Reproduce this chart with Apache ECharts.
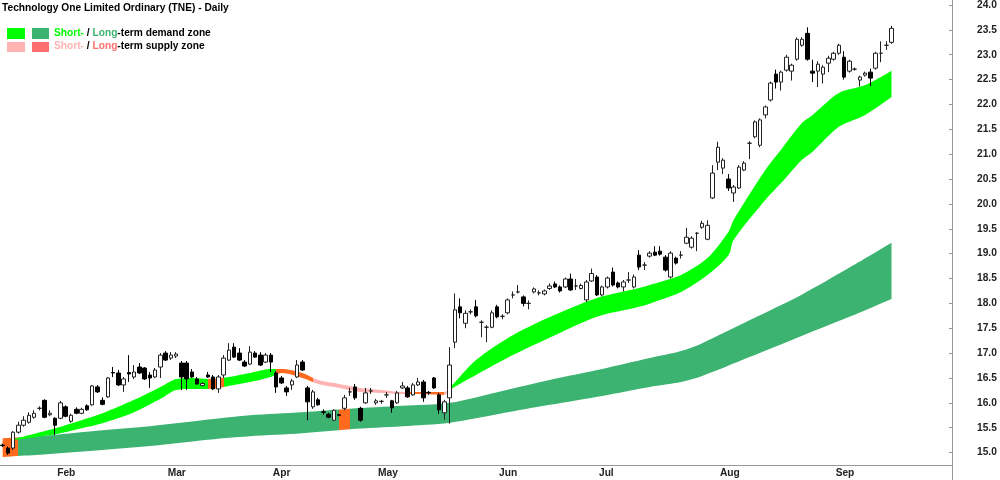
<!DOCTYPE html>
<html>
<head>
<meta charset="utf-8">
<title>TNE - Daily</title>
<script src="https://cdn.jsdelivr.net/npm/echarts@6/dist/echarts.min.js"></script>
<style>
  html, body { margin: 0; padding: 0; background: #fff; }
  #chart { width: 1000px; height: 480px; }
</style>
</head>
<body>
<div id="chart"></div>
<script>
// trading day slots on the x axis (data for 0..169, rest is empty space)
var slotCount = 181;
var monthNames = ['Feb', 'Mar', 'Apr', 'May', 'Jun', 'Jul', 'Aug', 'Sep'];
var monthStart = [10, 31, 51, 71, 94, 113, 136, 158];
var yTicks = [15.0, 15.5, 16.0, 16.5, 17.0, 17.5, 18.0, 18.5, 19.0, 19.5, 20.0, 20.5, 21.0, 21.5, 22.0, 22.5, 23.0, 23.5, 24.0];

var opens = [
  15.15,15.09,15.09,15.41,15.55,15.61,15.71,15.89,16.05,15.76,
  15.69,15.69,15.92,15.63,15.87,15.79,15.94,15.96,16.32,16.05,
  16.12,16.61,16.6,16.36,16.61,16.52,16.72,16.7,16.56,16.52,
  16.72,17.0,16.9,16.94,16.8,16.8,16.62,16.48,16.35,16.56,
  16.52,16.28,16.56,16.86,17.12,17.0,16.82,16.78,17.0,16.96,
  16.82,16.96,16.6,16.5,16.3,16.36,16.52,16.82,16.3,15.92,
  16.06,15.82,15.77,15.65,15.76,15.89,16.22,16.32,15.89,16.0,
  16.24,16.0,16.03,16.16,16.04,16.0,16.3,16.3,16.16,16.36,
  16.42,16.21,16.5,16.16,15.8,16.1,17.22,17.93,17.6,17.83,
  17.93,17.62,17.52,17.52,17.93,17.74,17.81,18.17,18.23,18.13,
  18.0,18.23,18.21,18.19,18.3,18.39,18.33,18.33,18.49,18.35,
  18.3,18.07,18.45,18.53,18.17,18.33,18.63,18.41,18.33,18.47,
  18.33,18.97,18.77,18.95,19.03,19.05,18.93,18.53,18.91,18.97,
  19.21,19.13,19.41,19.53,19.29,20.12,20.84,20.72,20.5,20.22,
  20.32,20.68,21.22,21.35,21.18,21.79,22.09,22.61,22.45,22.69,
  22.67,22.91,23.19,23.43,22.67,22.67,22.61,22.83,22.91,23.03,
  22.95,22.67,22.71,22.49,22.59,22.65,22.73,23.03,23.19,23.25
];
var closes = [
  15.14,14.99,15.41,15.55,15.65,15.75,15.79,15.89,15.71,15.79,
  15.55,16.0,15.73,15.75,15.79,15.87,15.86,16.34,16.22,15.97,
  16.5,16.6,16.36,16.48,16.58,16.62,16.6,16.48,16.5,16.66,
  16.96,16.86,16.96,16.98,16.52,16.48,16.52,16.38,16.39,16.52,
  16.28,16.52,16.9,17.06,16.92,16.86,16.74,17.02,16.92,16.76,
  16.96,16.82,16.32,16.4,16.22,16.44,16.76,16.66,16.02,16.22,
  15.96,15.81,15.71,15.85,15.75,16.1,16.22,16.1,15.65,16.2,
  16.24,16.04,16.03,16.16,15.9,16.2,16.34,16.12,16.36,16.42,
  16.1,16.2,16.3,15.86,16.02,16.76,17.87,17.81,17.8,17.83,
  17.75,17.62,17.52,17.81,17.73,17.74,18.07,18.17,18.23,18.0,
  18.0,18.29,18.21,18.25,18.35,18.33,18.25,18.49,18.27,18.35,
  18.36,18.43,18.6,18.17,18.33,18.51,18.37,18.33,18.43,18.47,
  18.53,18.73,18.77,19.01,18.97,18.99,18.67,19.01,18.81,18.97,
  19.33,19.31,19.41,19.61,19.57,20.62,21.14,20.88,20.32,20.34,
  20.74,20.82,21.22,21.65,21.69,21.95,22.43,22.45,22.65,22.95,
  22.79,23.31,23.31,22.91,22.63,22.81,22.75,22.93,23.03,23.19,
  22.55,22.87,22.71,22.55,22.63,22.53,23.03,23.03,23.19,23.53
];
var lows = [
  15.11,14.95,15.05,15.38,15.52,15.58,15.68,15.85,15.69,15.73,
  15.35,15.67,15.71,15.6,15.77,15.77,15.84,15.94,16.2,15.95,
  16.1,16.52,16.34,16.22,16.42,16.48,16.58,16.46,16.3,16.5,
  16.5,16.84,16.86,16.9,16.26,16.26,16.5,16.36,16.33,16.5,
  16.26,16.2,16.5,16.84,16.9,16.84,16.72,16.76,16.9,16.74,
  16.8,16.62,16.2,16.38,16.14,16.26,16.5,16.64,15.65,15.88,
  15.94,15.76,15.69,15.63,15.73,15.85,16.14,16.06,15.62,15.98,
  16.18,15.96,15.98,16.1,15.8,15.98,16.28,16.1,16.14,16.34,
  16.02,16.16,16.28,15.78,15.66,15.58,17.1,17.7,17.5,17.78,
  17.72,17.32,17.22,17.5,17.7,17.68,17.78,18.1,18.2,17.94,
  17.88,18.2,18.16,18.16,18.27,18.31,18.22,18.31,18.25,18.27,
  18.28,18.03,18.43,18.15,18.14,18.3,18.34,18.3,18.24,18.41,
  18.3,18.67,18.67,18.92,18.95,18.96,18.64,18.5,18.78,18.9,
  19.19,19.1,19.05,19.5,19.27,20.1,20.68,20.6,20.26,20.04,
  20.3,20.66,20.9,21.32,21.14,21.72,22.06,22.32,22.28,22.66,
  22.48,22.88,23.16,22.88,22.45,22.35,22.42,22.65,22.88,23.0,
  22.5,22.64,22.68,22.36,22.56,22.37,22.7,22.85,23.1,23.22
];
var highs = [
  15.18,15.12,15.43,15.62,15.73,15.81,15.85,15.93,16.07,15.85,
  15.71,16.04,15.95,15.78,15.91,15.9,15.97,16.36,16.36,16.11,
  16.52,16.72,16.66,16.52,16.96,16.76,16.8,16.72,16.62,16.7,
  17.0,17.04,17.02,17.02,16.84,16.84,16.68,16.52,16.41,16.62,
  16.56,16.56,16.96,17.2,17.2,17.1,16.86,17.14,17.04,17.02,
  17.0,17.0,16.64,16.54,16.34,16.48,16.86,16.86,16.34,16.26,
  16.1,15.87,15.8,15.87,15.78,16.16,16.3,16.38,15.92,16.3,
  16.3,16.08,16.06,16.22,16.06,16.24,16.42,16.34,16.4,16.5,
  16.46,16.24,16.52,16.2,16.06,17.12,18.2,18.1,17.86,17.88,
  18.07,17.66,17.56,17.86,17.97,17.78,18.1,18.24,18.37,18.16,
  18.06,18.32,18.26,18.28,18.4,18.44,18.36,18.52,18.6,18.49,
  18.4,18.47,18.7,18.57,18.36,18.54,18.72,18.44,18.47,18.63,
  18.58,19.07,18.83,19.05,19.15,19.15,18.97,19.05,18.94,19.05,
  19.52,19.35,19.43,19.66,19.67,20.78,21.25,20.92,20.6,20.38,
  20.78,20.86,21.26,21.68,21.72,21.98,22.46,22.7,22.68,23.0,
  22.82,23.35,23.35,23.55,22.9,22.87,22.79,22.98,23.06,23.22,
  23.07,22.9,22.74,22.58,22.66,22.72,23.06,23.27,23.27,23.58
];

// zone edges, read at a few days only
var longIdx   = [0, 9, 19, 28, 38, 47, 57, 66, 76, 85, 95, 104, 114, 123, 129, 133, 142, 152, 161, 169];
var longUpper = [15.29,15.35,15.45,15.53,15.65,15.75,15.81,15.88,15.94,16.0,16.24,16.46,16.68,16.9,17.04,17.2,17.66,18.18,18.72,19.22];
var longLower = [14.91,14.97,15.05,15.13,15.25,15.33,15.39,15.47,15.53,15.6,15.79,15.96,16.14,16.32,16.42,16.54,16.92,17.35,17.73,18.09];

var shortIdx   = [2,10,15,19,25,30,33,36,39,43,47,51,53,57,60,64,68,72,76,80,84,85,90,97,105,113,121,125,129,134,138,139,145,148,152,154,159,164,169];
var shortUpper = [15.27,15.49,15.65,15.79,16.06,16.32,16.48,16.5,16.48,16.52,16.6,16.68,16.68,16.6,16.46,16.38,16.3,16.26,16.22,16.22,16.22,16.3,16.86,17.36,17.77,18.11,18.31,18.43,18.57,18.91,19.44,19.68,20.68,21.09,21.63,21.79,22.23,22.39,22.68];
var shortLower = [15.25,15.37,15.49,15.59,15.81,16.08,16.26,16.28,16.28,16.34,16.42,16.52,16.6,16.5,16.38,16.3,16.22,16.2,16.18,16.18,16.16,16.26,16.56,16.96,17.36,17.73,17.93,18.07,18.23,18.57,18.97,19.28,20.08,20.42,20.89,21.05,21.55,21.79,22.15];

var GREEN = '#00ff00', DKGREEN = '#3cb371', ORANGE = '#ff6a1f', PINK = '#ffb4b4';
var FONT = '"Liberation Sans", Arial, sans-serif';

var categories = [];
for (var i = 0; i < slotCount; i++) categories.push(String(i));

// [dayIndex, value] pairs so the stack only uses the read days
var pairs = function (idx, vals) {
  return idx.map(function (k, j) { return [k, vals[j]]; });
};
var widths = function (up, lo) {
  return up.map(function (u, j) { return +(u - lo[j]).toFixed(3); });
};

var candles = opens.map(function (o, i) { return [o, closes[i], lows[i], highs[i]]; });

var isMonthStart = function (index) { return monthStart.indexOf(index) >= 0; };

var bandSeries = function (name, data, stack, area) {
  var s = {
    type: 'line', name: name, data: data, stack: stack,
    symbol: 'none', smooth: 0.3,
    lineStyle: { width: 0 }, silent: true, z: 1
  };
  if (area) s.areaStyle = { opacity: 1 };
  return s;
};

var myChart = echarts.init(document.getElementById('chart'));

myChart.setOption({
  animation: false,
  backgroundColor: '#fff',
  title: {
    text: 'Technology One Limited Ordinary (TNE) - Daily',
    left: 2, top: 3, padding: 0,
    textStyle: { fontSize: 10.2, fontWeight: 'bold', fontFamily: FONT, color: '#000' }
  },
  grid: { left: 0, right: 48, top: 0, bottom: 15, containLabel: false },
  xAxis: {
    type: 'category', data: categories, boundaryGap: true,
    axisLine: { lineStyle: { color: '#999' } },
    axisTick: { alignWithLabel: true, interval: isMonthStart, length: 5, lineStyle: { color: '#999' } },
    axisLabel: {
      interval: isMonthStart,
      formatter: function (v, index) { return monthNames[monthStart.indexOf(index)] || ''; },
      align: 'left', margin: 3, padding: [0, 0, 0, 2],
      color: '#222', fontWeight: 'bold', fontSize: 10.2, fontFamily: FONT
    },
    splitLine: { show: false }
  },
  yAxis: {
    type: 'value', position: 'right', min: 14.75, max: 24.1,
    splitLine: { show: false },
    axisLine: { show: true, lineStyle: { color: '#999' } },
    axisTick: { show: true, inside: true, length: 3, customValues: yTicks, lineStyle: { color: '#999' } },
    axisLabel: {
      customValues: yTicks, margin: 25,
      formatter: function (v) { return v.toFixed(1); },
      color: '#222', fontWeight: 'bold', fontSize: 10.2, fontFamily: FONT
    }
  },
  visualMap: [
    {
      type: 'piecewise', show: false, seriesIndex: 1, dimension: 0,
      pieces: [
        { lt: 2.9, color: ORANGE },
        { gte: 2.9, lt: 64, color: DKGREEN },
        { gte: 64, lt: 66, color: ORANGE },
        { gte: 66, color: DKGREEN }
      ]
    },
    {
      type: 'piecewise', show: false, seriesIndex: 3, dimension: 0,
      pieces: [
        { lt: 38.5, color: GREEN },
        { gte: 38.5, lt: 41.5, color: ORANGE },
        { gte: 41.5, lt: 51.5, color: GREEN },
        { gte: 51.5, lt: 58.5, color: ORANGE },
        { gte: 58.5, lt: 76.8, color: PINK },
        { gte: 76.8, lt: 83.5, color: ORANGE },
        { gte: 83.5, lt: 85, color: PINK },
        { gte: 85, color: GREEN }
      ]
    }
  ],
  series: [
    bandSeries('longBase', pairs(longIdx, longLower), 'long', false),
    bandSeries('longZone', pairs(longIdx, widths(longUpper, longLower)), 'long', true),
    bandSeries('shortBase', pairs(shortIdx, shortLower), 'short', false),
    bandSeries('shortZone', pairs(shortIdx, widths(shortUpper, shortLower)), 'short', true),
    {
      type: 'candlestick', name: 'TNE', data: candles, barWidth: 4, z: 3,
      itemStyle: {
        color: '#ffffff', color0: '#000000',
        borderColor: '#222', borderColor0: '#000', borderColorDoji: '#222', borderWidth: 1
      }
    }
  ],
  graphic: [
    { type: 'rect', left: 7, top: 28, shape: { width: 18, height: 11 }, style: { fill: GREEN } },
    { type: 'rect', left: 32, top: 28, shape: { width: 17, height: 11 }, style: { fill: DKGREEN } },
    { type: 'rect', left: 7, top: 42, shape: { width: 18, height: 10 }, style: { fill: '#ffb3b3' } },
    { type: 'rect', left: 32, top: 42, shape: { width: 17, height: 10 }, style: { fill: '#ff6e6e' } },
    {
      type: 'text', left: 54, top: 28,
      style: {
        text: '{g|Short-} / {d|Long}-term demand zone',
        font: 'bold 10.2px ' + FONT, fill: '#000',
        rich: {
          g: { fill: GREEN, fontWeight: 'bold', fontSize: 10.2, fontFamily: FONT },
          d: { fill: DKGREEN, fontWeight: 'bold', fontSize: 10.2, fontFamily: FONT }
        }
      }
    },
    {
      type: 'text', left: 54, top: 41,
      style: {
        text: '{p|Short-} / {r|Long}-term supply zone',
        font: 'bold 10.2px ' + FONT, fill: '#000',
        rich: {
          p: { fill: '#ffb3b3', fontWeight: 'bold', fontSize: 10.2, fontFamily: FONT },
          r: { fill: '#ff6e6e', fontWeight: 'bold', fontSize: 10.2, fontFamily: FONT }
        }
      }
    },
    { type: 'line', shape: { x1: 952.5, y1: 465, x2: 952.5, y2: 480 }, style: { stroke: '#999', lineWidth: 1 } }
  ]
});
</script>
</body>
</html>
